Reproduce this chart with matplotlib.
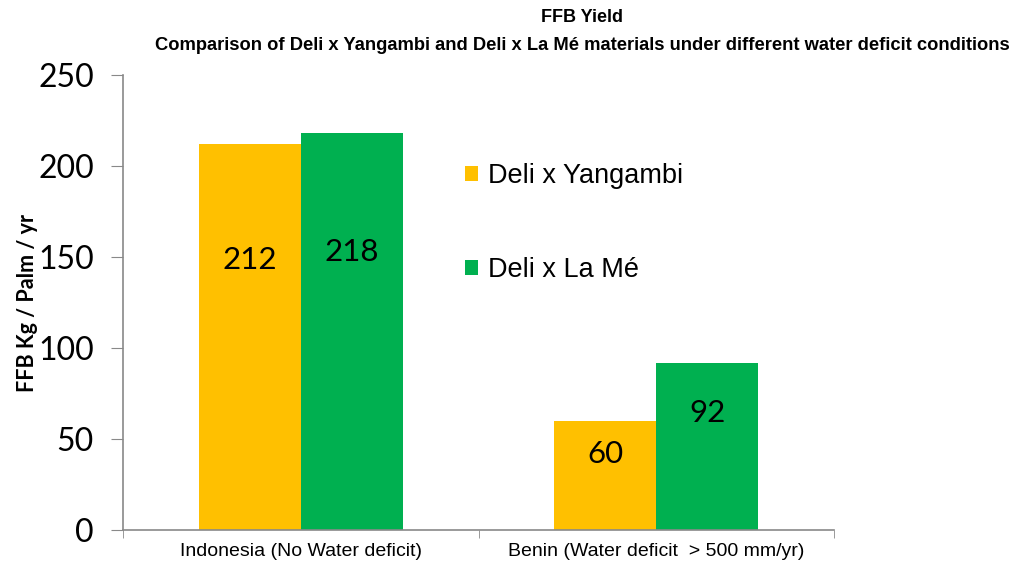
import matplotlib
matplotlib.use("Agg")
import matplotlib.pyplot as plt
import numpy as np
from matplotlib.patches import Patch

categories = ["Indonesia (No Water deficit)", "Benin (Water deficit  > 500 mm/yr)"]
series_names = ["Deli x Yangambi", "Deli x La Mé"]
yangambi = [212, 60]
la_me = [218, 92]
colors = ["#FFC000", "#00B050"]

fig = plt.figure(figsize=(10.16, 5.63), dpi=100)
ax = fig.add_axes([123/1016, 1-530/563, (834-123)/1016, (530-75)/563])

x = np.arange(len(categories))
w = 0.287
b1 = ax.bar(x - w/2, yangambi, w, color=colors[0], label=series_names[0])
b2 = ax.bar(x + w/2, la_me, w, color=colors[1], label=series_names[1])

for bars, vals in ((b1, yangambi), (b2, la_me)):
    for rect, v in zip(bars, vals):
        ax.text(rect.get_x() + rect.get_width()/2, v*0.70, str(v),
                ha="center", va="center", fontsize=22.5, family="Lato", color="black")

ax.set_xlim(-0.5, 1.5)
ax.set_ylim(0, 250)
ax.set_yticks([0, 50, 100, 150, 200, 250])
ax.set_yticklabels(["0", "50", "100", "150", "200", "250"], family="Lato", fontsize=23)
ax.set_xticks(x)
ax.set_xticklabels(categories, family="Liberation Sans", fontsize=14)
ax.set_xticks([-0.5, 0.5, 1.5], minor=True)
ax.tick_params(axis="x", which="major", length=0, pad=9)
ax.tick_params(axis="x", which="minor", length=6, color="#898989", direction="out")
ax.tick_params(axis="y", length=9, color="#898989", direction="out", pad=12)

for s in ("top", "right"):
    ax.spines[s].set_visible(False)
for s in ("left", "bottom"):
    ax.spines[s].set_color("#898989")
    ax.spines[s].set_linewidth(1.2)

ax.set_ylabel("FFB Kg / Palm / yr", family="Lato", fontweight="bold", fontsize=15.5, labelpad=0)

fig.text(582/1016, 1-18/563, "FFB Yield", ha="center", va="center",
         family="Liberation Sans", fontweight="bold", fontsize=13)
fig.text(582/1016, 1-45/563,
         "Comparison of Deli x Yangambi and Deli x La Mé materials under different water deficit conditions",
         ha="center", va="center", family="Liberation Sans",
         fontweight="bold", fontsize=13.2)

handles = [Patch(facecolor=c, edgecolor="none") for c in colors]
leg = fig.legend(handles, series_names, loc="upper left", bbox_to_anchor=(441/1016, 1-139/563),
                 frameon=False, prop={"family": "Liberation Sans", "size": 19.5},
                 handlelength=0.45, handleheight=0.45, handletextpad=0.4, labelspacing=2.5)

fig.savefig("out.png", dpi=100)
